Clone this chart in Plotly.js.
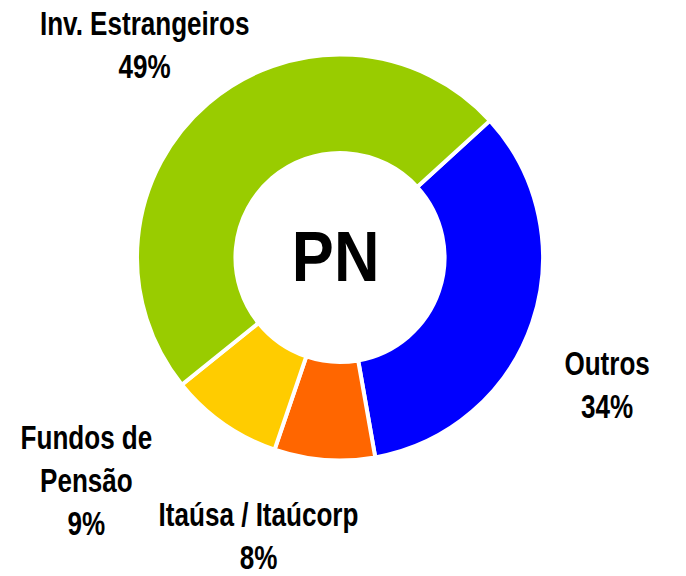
<!DOCTYPE html>
<html>
<head>
<meta charset="utf-8">
<script src="https://cdn.plot.ly/plotly-3.0.1.min.js"></script>
<style>
  html, body { margin: 0; padding: 0; background: #fff; }
  #chart { width: 686px; height: 576px; }
</style>
</head>
<body>
<div id="chart"></div>
<script>
// Data
const categories = ["Outros", "Itaúsa / Itaúcorp", "Fundos de Pensão", "Inv. Estrangeiros"];
const labelText = ["Outros", "Itaúsa / Itaúcorp", "Fundos de<br>Pensão", "Inv. Estrangeiros"];
const shares = [34, 8, 9, 49];
const sliceColors = ["#0000FF", "#FF6600", "#FFCC00", "#99CC00"];
const centerLabel = "PN";

// Label placement (paper coords)
const labelPos = [
  {x: 607 / 686, y: 1 - 385 / 576},
  {x: 258 / 686, y: 1 - 536 / 576},
  {x: 86 / 686, y: 1 - 480 / 576},
  {x: 144 / 686, y: 1 - 45 / 576}
];

const fontFam = "'Liberation Sans', Arial, sans-serif";

const annotations = categories.map((c, i) => ({
  xref: "paper", yref: "paper",
  x: labelPos[i].x, y: labelPos[i].y,
  xanchor: "center", yanchor: "middle",
  showarrow: false,
  text: "<b>" + labelText[i] + "<br>" + shares[i] + "%</b>",
  font: {family: fontFam, size: 33, color: "#000"},
  align: "center"
}));

annotations.push({
  xref: "paper", yref: "paper",
  x: 335 / 686, y: 1 - 257 / 576,
  xanchor: "center", yanchor: "middle",
  showarrow: false,
  text: "<b>" + centerLabel + "</b>",
  font: {family: fontFam, size: 70, color: "#000"}
});

const trace = {
  type: "pie",
  labels: categories,
  values: shares,
  sort: false,
  direction: "clockwise",
  rotation: 47.6,
  hole: 0.515,
  textinfo: "none",
  hoverinfo: "label+percent",
  marker: {colors: sliceColors, line: {color: "#FFFFFF", width: 4}},
  domain: {x: [137 / 686, 543 / 686], y: [1 - 461 / 576, 1 - 54 / 576]},
  showlegend: false
};

const layout = {
  width: 686, height: 576,
  margin: {l: 0, r: 0, t: 0, b: 0},
  paper_bgcolor: "#FFFFFF",
  plot_bgcolor: "#FFFFFF",
  showlegend: false,
  annotations: annotations
};

// horizontal condensing of the bold text (narrow look of the original)
const condense = [0.79, 0.79, 0.79, 0.79, 0.9];

Plotly.newPlot("chart", [trace], layout, {displayModeBar: false, staticPlot: true}).then(() => {
  const texts = document.querySelectorAll("#chart .annotation-text");
  texts.forEach((t, i) => {
    const s = condense[i] !== undefined ? condense[i] : 1;
    const bb = t.getBBox();
    const cx = bb.x + bb.width / 2;
    t.setAttribute("transform", "translate(" + cx + ",0) scale(" + s + ",1) translate(" + (-cx) + ",0)");
  });
});
</script>
</body>
</html>
